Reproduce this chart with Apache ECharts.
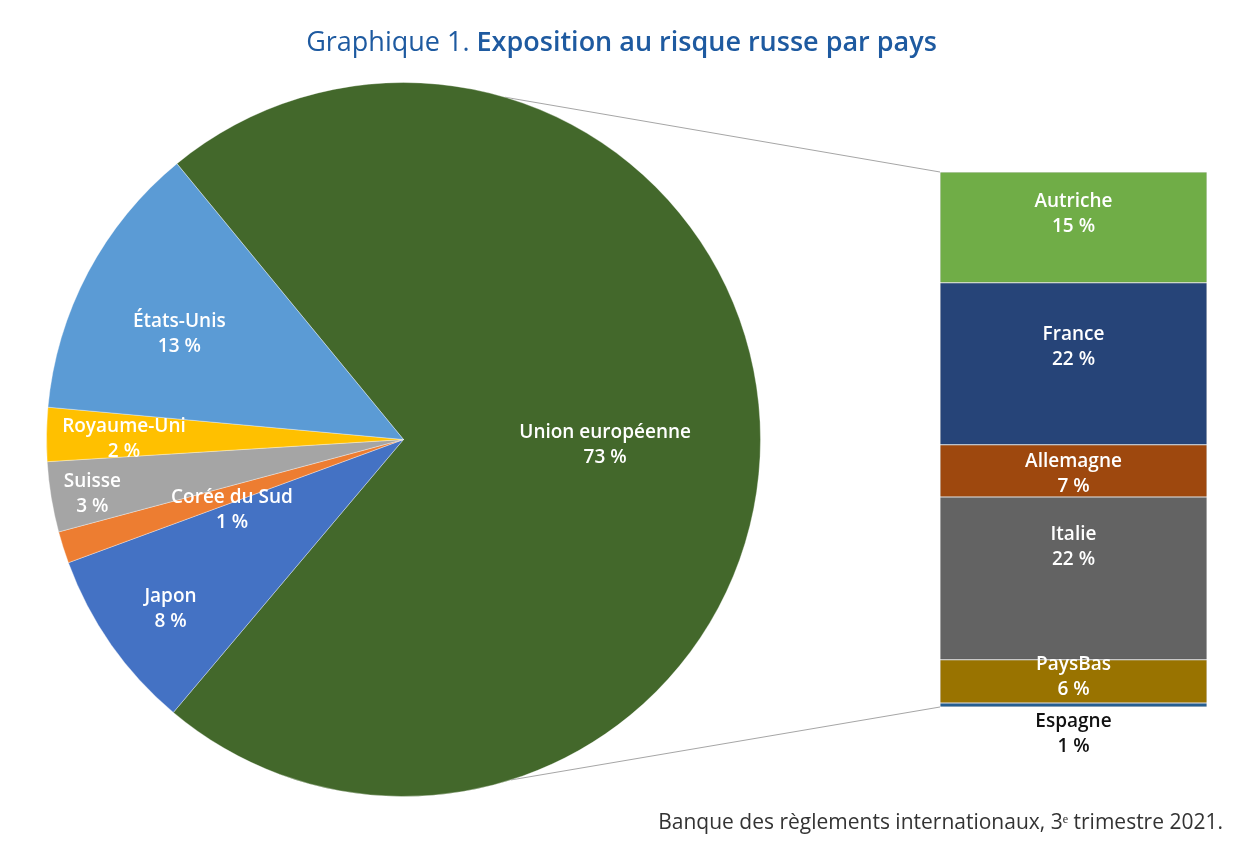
<!DOCTYPE html>
<html>
<head>
<meta charset="utf-8">
<script src="https://cdn.jsdelivr.net/npm/echarts@6/dist/echarts.min.js"></script>
<style>html,body{margin:0;padding:0;background:#fff}#c{width:1243px;height:848px}</style>
</head>
<body>
<div id="c"></div>
<script>
// ---- data ----
const pieNames = ['Union européenne', 'Japon', 'Corée du Sud', 'Suisse', 'Royaume-Uni', 'États-Unis'];
const pieValues = [72.6, 8.3, 1.45, 3.2, 2.45, 12.7];
const barNames = ['Autriche', 'France', 'Allemagne', 'Italie', 'PaysBas', 'Espagne'];
const barValues = [15.1, 22.1, 7.1, 22.2, 5.9, 0.55];
const titleMain = 'Graphique 1. ';
const titleBold = 'Exposition au risque russe par pays';
const sourceText = 'Banque des règlements internationaux, 3ᵉ trimestre 2021.';

// ---- styles / layout ----
const pieColors = ['#43682B', '#4472C4', '#ED7D31', '#A5A5A5', '#FFC000', '#5B9BD5'];
const barColors = ['#70AD47', '#264478', '#9E480E', '#636363', '#997300', '#255E91'];
const labelRadiusFrac = [0.565, 0.807, 0.52, 0.885, 0.783, 0.694];
const labelAngleShift = [-1.3, 1.0, 4.9, 0.7, 0.8, 2.7];
const barLabelDy = [-13, -17, 3, -31, -4, 0];
const FONT = 'Open Sans';
const LABEL_SIZE = 19;
const cx = 403.5, cy = 439.5, R = 357, startAngle = 129.4;

const chart = echarts.init(document.getElementById('c'), null, {renderer: 'canvas'});

const pieSum = pieValues.reduce((a, b) => a + b, 0);
function midAngle(i) {
  let before = 0;
  for (let k = 0; k < i; k++) before += pieValues[k];
  const mid = before + pieValues[i] / 2;
  return (startAngle - mid / pieSum * 360 + labelAngleShift[i]) * Math.PI / 180;
}

const barTotal = barValues.reduce((a, b) => a + b, 0);
const barSeries = [];
for (let i = barNames.length - 1; i >= 0; i--) {
  const isLast = i === barNames.length - 1;
  barSeries.push({
    type: 'bar', name: barNames[i], stack: 'eu', barWidth: '100%',
    xAxisIndex: 0, yAxisIndex: 0,
    data: [barValues[i]],
    itemStyle: {color: barColors[i], borderColor: 'rgba(0,0,0,0.08)', borderWidth: 1},
    label: {
      show: true,
      position: isLast ? 'bottom' : 'inside',
      distance: 2,
      offset: [0, barLabelDy[i]],
      formatter: () => barNames[i] + '\n' + Math.round(barValues[i]) + ' %',
      color: isLast ? '#111' : '#fff',
      fontFamily: FONT, fontWeight: 600, fontSize: LABEL_SIZE, lineHeight: 25
    },
    silent: true
  });
}

const sourceGraphic = {
  type: 'text', right: 20, top: 813,
  style: {text: sourceText, fontFamily: FONT, fontSize: 21, fill: '#333'}
};

const option = {
  backgroundColor: '#fff',
  animation: false,
  title: {
    text: '{n|' + titleMain + '}{b|' + titleBold + '}',
    left: 'center', top: 25,
    textStyle: {
      rich: {
        n: {fontFamily: FONT, fontSize: 27, color: '#1E5AA0', fontWeight: 400},
        b: {fontFamily: FONT, fontSize: 27, color: '#1E5AA0', fontWeight: 600}
      }
    }
  },
  grid: {left: 940, right: 36, top: 172, bottom: 141},
  xAxis: {type: 'category', data: ['UE'], show: false},
  yAxis: {type: 'value', min: 0, max: barTotal, show: false},
  series: [
    {
      type: 'pie',
      center: [cx, cy], radius: R,
      startAngle: startAngle, clockwise: true,
      avoidLabelOverlap: false,
      data: pieNames.map((n, i) => ({name: n, value: pieValues[i], itemStyle: {color: pieColors[i]}})),
      itemStyle: {borderColor: 'rgba(255,255,255,0.35)', borderWidth: 1},
      label: {
        show: true, position: 'inside',
        formatter: p => p.name + '\n' + Math.round(p.value) + ' %',
        color: '#fff', fontFamily: FONT, fontWeight: 600, fontSize: LABEL_SIZE, lineHeight: 25,
        align: 'center', verticalAlign: 'middle'
      },
      labelLine: {show: false},
      labelLayout: function (params) {
        const i = params.dataIndex;
        const a = midAngle(i);
        const f = labelRadiusFrac[i];
        return {x: cx + f * R * Math.cos(a), y: cy - f * R * Math.sin(a), align: 'center', verticalAlign: 'middle'};
      },
      silent: true
    }
  ].concat(barSeries),
  graphic: [sourceGraphic]
};
chart.setOption(option);

// connector lines from pie edge to bar corners
const topPt = chart.convertToPixel({gridIndex: 0}, [0, barTotal]);
const botPt = chart.convertToPixel({gridIndex: 0}, [0, 0]);
const barLeft = 940;
const aTop = 73.5 * Math.PI / 180, aBot = -72.5 * Math.PI / 180;
chart.setOption({
  graphic: [
    sourceGraphic,
    {
      type: 'line', silent: true,
      shape: {x1: cx + R * Math.cos(aTop), y1: cy - R * Math.sin(aTop), x2: barLeft, y2: topPt[1]},
      style: {stroke: '#A6A6A6', lineWidth: 1}
    },
    {
      type: 'line', silent: true,
      shape: {x1: cx + R * Math.cos(aBot), y1: cy - R * Math.sin(aBot), x2: barLeft, y2: botPt[1]},
      style: {stroke: '#A6A6A6', lineWidth: 1}
    }
  ]
});
</script>
</body>
</html>
